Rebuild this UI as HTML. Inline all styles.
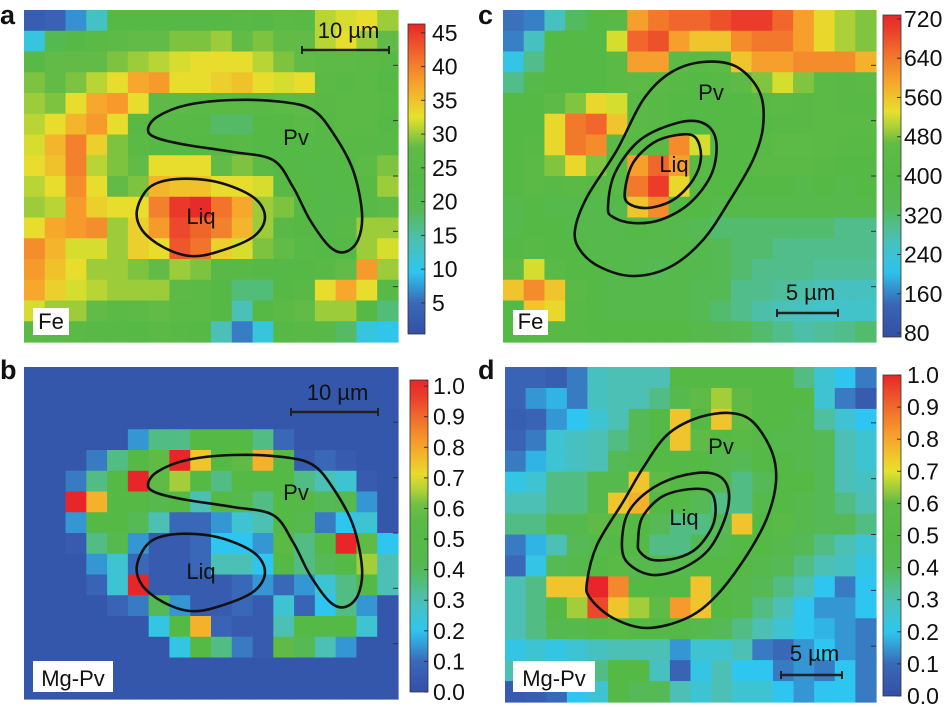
<!DOCTYPE html>
<html><head><meta charset="utf-8"><style>
html,body{margin:0;padding:0;background:#fff;}
svg{display:block;font-family:"Liberation Sans",sans-serif;}
</style></head><body>
<svg id="fig" width="946" height="707" viewBox="0 0 946 707" xmlns="http://www.w3.org/2000/svg"></svg>
<script>
const feA = [
[3,4,7,13,24,24,24,24,24,24,25,24,26,25,31,32,33,30],
[11,20,24,26,27,28,28,29,29,30,28,29,28,28,31,33,30,28],
[25,28,28,28,29,30,31,32,33,33,33,31,29,28,27,27,26,25],
[29,28,29,31,33,37,38,33,33,34,35,33,32,33,26,25,26,24],
[30,29,33,37,38,33,27,27,26,26,26,25,27,27,25,26,26,25],
[31,33,36,38,33,25,25,25,25,18,18,24,24,26,24,26,26,24],
[32,36,40,34,29,26,24,24,24,24,25,23,23,23,24,25,25,25],
[33,35,40,31,29,28,33,33,33,28,29,27,24,23,22,23,27,29],
[31,33,39,33,28,29,36,35,35,33,33,32,25,24,22,23,25,30],
[30,31,38,34,33,33,40,45,46,41,37,30,29,24,22,22,25,27],
[33,37,38,39,30,34,38,44,42,40,36,30,25,24,22,25,30,30],
[39,36,32,32,30,34,33,43,41,34,32,29,28,25,23,23,30,32],
[38,35,33,30,30,29,28,30,29,25,25,24,23,24,25,28,38,30],
[37,34,32,31,30,30,30,27,26,24,17,17,24,25,33,37,33,25],
[32,30,30,28,26,27,28,26,26,24,14,24,26,28,30,30,24,17],
[26,25,26,25,25,24,26,25,24,14,6,11,24,25,25,18,11,10]];
const mgB = [
[.03,.03,.03,.03,.03,.03,.03,.03,.03,.03,.03,.03,.03,.03,.03,.03,.03,.03],
[.03,.03,.03,.03,.03,.03,.03,.03,.03,.03,.03,.03,.03,.03,.03,.03,.03,.03],
[.03,.03,.03,.03,.03,.03,.03,.03,.03,.03,.03,.03,.03,.03,.03,.03,.03,.03],
[.03,.03,.03,.03,.03,.15,.35,.35,.5,.5,.5,.35,.1,.03,.03,.03,.03,.03],
[.03,.03,.03,.12,.35,.5,.6,1,.75,.5,.6,.78,.5,.05,.1,.05,.03,.03],
[.03,.03,.12,.35,.5,1,.6,.65,.5,.35,.5,.5,.5,.35,.3,.25,.05,.03],
[.03,.03,1,.78,.5,.5,.45,.5,.3,.5,.45,.35,.5,.5,.4,.45,.15,.03],
[.03,.03,.15,.5,.5,.4,.3,.1,.1,.15,.25,.3,.5,.45,.12,.2,.25,.03],
[.03,.03,.05,.35,.45,.15,.05,.05,.1,.2,.2,.15,.55,.35,.5,1,.6,.2],
[.03,.03,.03,.15,.25,.1,.05,.05,.1,.3,.3,.2,.5,.35,.4,.5,.65,.3],
[.03,.03,.03,.08,.25,1,.05,.05,.05,.05,.1,.15,.1,.15,.25,.35,.5,.3],
[.03,.03,.03,.03,.08,.12,.4,.15,.05,.05,.1,.05,.25,.08,.2,.35,.15,.03],
[.03,.03,.03,.03,.03,.03,.22,.5,.78,.08,.05,.05,.3,.5,.5,.5,.25,.03],
[.03,.03,.03,.03,.03,.03,.03,.22,.5,.35,.12,.05,.6,.4,.3,.15,.03,.03],
[.03,.03,.03,.03,.03,.03,.03,.03,.03,.03,.03,.03,.03,.03,.03,.03,.03,.03],
[.03,.03,.03,.03,.03,.03,.03,.03,.03,.03,.03,.03,.03,.03,.03,.03,.03,.03]];
const feC = [
[150,160,260,330,400,430,600,640,660,660,680,700,700,660,600,540,500,480],
[160,260,400,400,400,520,660,680,600,560,560,620,640,640,600,540,500,480],
[220,300,400,400,400,440,600,600,460,440,460,560,600,600,620,620,620,580],
[300,380,400,400,400,440,460,440,420,400,420,460,480,520,480,440,420,440],
[400,400,460,480,540,520,440,420,400,400,400,400,420,440,420,440,420,420],
[400,400,540,640,660,560,440,420,400,400,400,400,400,420,420,440,440,440],
[400,420,540,640,620,440,420,440,620,520,400,400,420,460,460,440,420,420],
[400,440,480,540,480,420,600,660,600,440,400,400,440,440,440,420,400,400],
[400,440,420,440,420,420,640,700,540,420,400,400,400,400,380,400,380,400],
[380,400,380,380,380,380,560,620,400,400,380,380,380,380,380,380,380,380],
[380,400,400,380,380,380,400,380,360,340,320,320,320,320,320,320,300,300],
[400,420,400,400,380,380,380,380,380,360,340,320,320,300,300,300,300,300],
[460,520,440,400,400,380,360,340,380,360,340,320,300,300,300,290,290,290],
[560,620,560,440,400,380,380,380,380,340,340,300,300,290,280,270,260,260],
[400,560,540,420,400,380,380,380,380,340,320,300,280,270,260,250,250,250],
[400,400,420,420,400,400,400,400,400,380,360,340,320,300,280,290,300,320]];
const mgD = [
[.08,.08,.06,.12,.28,.3,.3,.3,.5,.5,.5,.5,.5,.5,.35,.25,.2,.12],
[.08,.15,.18,.12,.28,.3,.3,.35,.45,.6,.65,.6,.5,.5,.5,.25,.12,.05],
[.06,.08,.15,.2,.25,.3,.4,.5,.75,.5,.75,.6,.5,.5,.45,.32,.25,.2],
[.08,.12,.25,.28,.3,.35,.4,.5,.75,.6,.5,.55,.5,.45,.45,.4,.3,.25],
[.12,.18,.25,.28,.3,.4,.45,.5,.5,.5,.45,.4,.5,.5,.45,.4,.3,.25],
[.22,.25,.35,.35,.45,.45,.75,.6,.5,.5,.45,.35,.4,.5,.5,.4,.3,.28],
[.3,.3,.35,.35,.45,.75,.78,.5,.5,.4,.35,.35,.45,.5,.45,.4,.35,.3],
[.35,.35,.45,.45,.6,.55,.5,.4,.35,.35,.4,.75,.5,.55,.45,.4,.4,.35],
[.12,.18,.3,.4,.45,.5,.5,.35,.35,.4,.45,.5,.5,.45,.4,.35,.3,.25],
[.1,.22,.4,.45,.5,.55,.45,.45,.45,.5,.5,.5,.45,.4,.35,.3,.28,.22],
[.3,.35,.75,.75,1,.85,.5,.5,.5,.75,.5,.45,.4,.35,.3,.2,.12,.2],
[.3,.35,.5,.65,.95,.75,.65,.6,.82,.75,.5,.45,.35,.3,.2,.15,.15,.2],
[.3,.35,.45,.45,.5,.55,.5,.5,.5,.45,.4,.35,.3,.25,.2,.18,.15,.12],
[.22,.25,.22,.25,.28,.3,.3,.3,.15,.25,.25,.3,.12,.1,.15,.2,.15,.12],
[.3,.3,.25,.25,.35,.5,.5,.28,.08,.22,.3,.2,.2,.12,.15,.12,.2,.12],
[.05,.06,.1,.2,.25,.5,.4,.4,.3,.25,.3,.25,.25,.2,.15,.2,.2,.12]];
const ticksA = [5,10,15,20,25,30,35,40,45];
const ticksC = [80,160,240,320,400,480,560,640,720];
const ticksBD = ["0.0","0.1","0.2","0.3","0.4","0.5","0.6","0.7","0.8","0.9","1.0"];

const NS="http://www.w3.org/2000/svg";
const svg=document.getElementById('fig');
const stops=[[0,[51,80,166]],[.1,[58,104,184]],[.2,[46,198,240]],[.3,[76,192,180]],[.4,[85,185,85]],[.5,[85,185,70]],[.6,[95,186,70]],[.7,[230,226,44]],[.8,[247,166,44]],[.9,[240,106,44]],[1,[232,38,42]]];
function cmap(t){t=Math.max(0,Math.min(1,t));for(let i=1;i<stops.length;i++){if(t<=stops[i][0]){const a=stops[i-1],b=stops[i];const f=(t-a[0])/(b[0]-a[0]);const c=a[1].map((v,k)=>Math.round(v+(b[1][k]-v)*f));return `rgb(${c})`;}}return 'rgb(232,38,42)';}
function el(tag,attrs,parent){const e=document.createElementNS(NS,tag);for(const k in attrs)e.setAttribute(k,attrs[k]);(parent||svg).appendChild(e);return e;}
function txt(s,x,y,size,anchor,parent,weight){const t=el('text',{x:x,y:y,'font-size':size,'text-anchor':anchor||'start','font-weight':weight||'normal',fill:'#111'},parent);t.textContent=s;return t;}

function panel(cfg){
  const g=el('g',{});
  
  
  const rows=cfg.data.length, cols=cfg.data[0].length;
  const cw=(cfg.x1-cfg.x0)/cols, ch=(cfg.y1-cfg.y0)/rows;
  const sx=c=>cfg.x0+c*cw, sy=r=>cfg.y0+r*ch;
  const norm=v=>(v-cfg.vmin)/(cfg.vmax-cfg.vmin);
  for(let r=0;r<rows;r++)for(let c=0;c<cols;c++){
    const rc=el('rect',{x:sx(c).toFixed(2),y:sy(r).toFixed(2),width:(cw+0.6).toFixed(2),height:(ch+0.6).toFixed(2),fill:cmap(norm(cfg.data[r][c]))},g);
    
    
  }
  // right-edge ticks
  for(let i=1;i<6;i++){el('line',{x1:cfg.x1-5,x2:cfg.x1,y1:cfg.y0+i*(cfg.y1-cfg.y0)/6,y2:cfg.y0+i*(cfg.y1-cfg.y0)/6,stroke:'#333','stroke-width':1},g);}
  // contours
  cfg.contours.forEach((pts,i)=>{
    const d=smooth(pts);
    const p=el('path',{d:d,fill:'none',stroke:'#111','stroke-width':2.6},g);
    
    
  });
  cfg.labels.forEach(l=>{const t=txt(l[0],l[1],l[2],22,'middle',g);});
  // scale bar
  const sb=cfg.scale;
  const sg=el('g',{},g);
  
  
  el('line',{x1:sb.x1,x2:sb.x2,y1:sb.y,y2:sb.y,stroke:'#222','stroke-width':2.5},sg);
  el('line',{x1:sb.x1,x2:sb.x1,y1:sb.y-4,y2:sb.y+4,stroke:'#222','stroke-width':2},sg);
  el('line',{x1:sb.x2,x2:sb.x2,y1:sb.y-4,y2:sb.y+4,stroke:'#222','stroke-width':2},sg);
  txt(sb.text,(sb.x1+sb.x2)/2+3,sb.ty,22,'middle',sg);
  // element label box
  const eb=cfg.elbox;
  const bg=el('g',{},g);
  
  
  el('rect',{x:eb.x,y:eb.y,width:eb.w,height:eb.h,fill:'#fff'},bg);
  txt(eb.text,eb.x+eb.w/2,eb.y+eb.h-6,22,'middle',bg);
  // colorbar
  const cb=cfg.cbar;
  const cg=el('g',{},g);
  
  
  const defs=el('defs',{},cg);
  const lg=el('linearGradient',{id:'grad-'+cfg.name,x1:0,y1:1,x2:0,y2:0},defs);
  for(let i=0;i<=20;i++){const t=i/20;const v=cb.bmin+(cb.bmax-cb.bmin)*t;el('stop',{offset:t,'stop-color':cmap(norm(v))},lg);}
  el('rect',{x:cb.x,y:cb.y0,width:cb.w,height:cb.y1-cb.y0,fill:`url(#grad-${cfg.name})`,stroke:'#333','stroke-width':0.8},cg);
  const ty=v=>cb.y1-(v-cb.bmin)/(cb.bmax-cb.bmin)*(cb.y1-cb.y0);
  cfg.ticks.forEach(tk=>{
    const v=parseFloat(tk);const y=ty(v);
    el('line',{x1:cb.x+cb.w-4,x2:cb.x+cb.w,y1:y,y2:y,stroke:'#333','stroke-width':1},cg);
    const t=txt(String(tk),cb.tx,y+8,23,cb.anchor||'start',cg);
    
    
  });
  const pl=txt(cfg.letter,cfg.lx,cfg.ly,27,'start',g,'bold');
  
  
}
function smooth(p){
  const n=p.length;let d=`M${p[0][0]},${p[0][1]}`;
  for(let i=0;i<n;i++){const p0=p[(i-1+n)%n],p1=p[i],p2=p[(i+1)%n],p3=p[(i+2)%n];
    const c1=[p1[0]+(p2[0]-p0[0])/6,p1[1]+(p2[1]-p0[1])/6],c2=[p2[0]-(p3[0]-p1[0])/6,p2[1]-(p3[1]-p1[1])/6];
    d+=`C${c1[0].toFixed(1)},${c1[1].toFixed(1)} ${c2[0].toFixed(1)},${c2[1].toFixed(1)} ${p2[0]},${p2[1]}`;}
  return d+'Z';
}
const pvA=[[148,130],[157,117],[187,105],[233,100],[283,102],[313,110],[333,133],[353,170],[362,213],[358,240],[345,252],[330,247],[310,220],[293,187],[273,160],[233,152],[187,145],[157,138]];
const liqA=[[137,210],[150,187],[177,179],[217,182],[253,197],[265,217],[253,237],[217,252],[190,256],[163,247],[142,230]];
const shift=(pts,dx,dy)=>pts.map(p=>[p[0]+dx,p[1]+dy]);
panel({name:'panel-a',letter:'a',lx:0,ly:24,data:feA,vmin:0.4,vmax:46.3,x0:24,x1:398,y0:10,y1:342,
  contours:[pvA,liqA],labels:[['Pv',296,145],['Liq',201,224]],
  scale:{x1:302,x2:389,y:50,text:'10 µm',ty:38},
  elbox:{x:33,y:308,w:36,h:27,text:'Fe'},
  cbar:{x:408,w:17,y0:24,y1:334,bmin:0.4,bmax:46.3,tx:432},ticks:ticksA});
panel({name:'panel-b',letter:'b',lx:0,ly:379,data:mgB,vmin:0,vmax:1,x0:24,x1:398,y0:367,y1:699,
  contours:[shift(pvA,0,355),shift(liqA,0,355)],labels:[['Pv',296,500],['Liq',201,579]],
  scale:{x1:291,x2:378,y:412,text:'10 µm',ty:400},
  elbox:{x:33,y:661,w:80,h:31,text:'Mg-Pv'},
  cbar:{x:410,w:18,y0:380,y1:692,bmin:0,bmax:1.02,tx:433},ticks:ticksBD});
panel({name:'panel-c',letter:'c',lx:478,ly:24,data:feC,vmin:80,vmax:720,x0:503,x1:876,y0:10,y1:342,
  contours:[
   [[575,230],[587,197],[617,150],[643,100],[670,73],[703,62],[737,67],[760,93],[763,127],[753,160],[730,200],[703,240],[670,267],[633,276],[600,267],[580,250]],
   [[608,207],[615,173],[640,140],[677,123],[703,123],[716,140],[712,173],[690,203],[660,220],[633,223],[613,217]],
   [[625,190],[633,163],[653,143],[677,135],[695,137],[701,157],[693,180],[673,200],[647,208],[628,203]]],
  labels:[['Pv',711,100],['Liq',674,172]],
  scale:{x1:777,x2:838,y:313,text:'5 µm',ty:300},
  elbox:{x:513,y:310,w:35,h:25,text:'Fe'},
  cbar:{x:883,w:18,y0:15,y1:337,bmin:72,bmax:728,tx:904},ticks:ticksC});
panel({name:'panel-d',letter:'d',lx:478,ly:379,data:mgD,vmin:0,vmax:1,x0:505,x1:876,y0:367,y1:702,
  contours:[
   [[587,582],[597,545],[623,502],[643,468],[667,435],[697,418],[730,413],[753,422],[772,452],[776,482],[767,518],[747,555],[717,595],[687,618],[647,628],[613,618],[590,598]],
   [[622,548],[627,515],[647,492],[677,477],[710,473],[727,485],[727,512],[710,548],[683,568],[653,575],[630,565]],
   [[638,542],[642,518],[660,498],[683,490],[707,490],[715,502],[713,525],[697,548],[677,558],[653,560],[640,552]]],
  labels:[['Pv',721,454],['Liq',684,525]],
  scale:{x1:781,x2:842,y:675,text:'5 µm',ty:661},
  elbox:{x:513,y:661,w:82,h:31,text:'Mg-Pv'},
  cbar:{x:883,w:18,y0:375,y1:696,bmin:0,bmax:1.0,tx:907},ticks:ticksBD});
</script>
</body></html>
